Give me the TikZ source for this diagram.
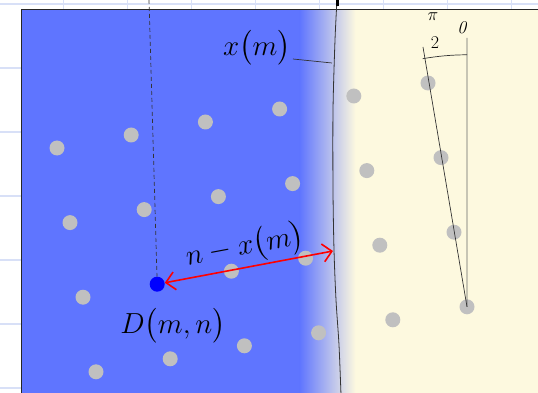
\RequirePackage{fix-cm}
\documentclass[tikz,border=0pt]{standalone}
\usepackage{amsmath,amssymb}
\usepackage{xcolor}
\usepackage{tikz}
\usetikzlibrary{arrows.meta,positioning,calc}

\definecolor{seablue}{RGB}{95,117,255}
\definecolor{sandcream}{RGB}{253,249,223}
\definecolor{shoremist}{RGB}{206,211,238}
\definecolor{gridblue}{RGB}{216,224,247}
\definecolor{pebblegray}{RGB}{192,192,192}

\begin{document}
\begin{tikzpicture}[
    x=1pt, y=-1pt,
    gridline/.style={draw=gridblue, line width=1.5pt},
    pebble/.style={circle, fill=pebblegray, minimum size=15pt, inner sep=0pt},
    probe/.style={circle, fill=blue, minimum size=15pt, inner sep=0pt},
    bigmath/.style={font=\fontsize{29}{34}\selectfont, inner sep=0pt, text=black},
    smallmath/.style={font=\fontsize{18}{20}\selectfont, inner sep=0pt},
    thin/.style={black!80, line width=0.7pt},
    gap/.style={{Straight Barb[length=9pt,width=18pt]}-{Straight Barb[length=9pt,width=18pt]}, red, line width=1.6pt}
]

% Canvas and background grid
\clip (0,0) rectangle (538,393);
\fill[white] (0,0) rectangle (538,393);
\foreach \gx in {63.5,127.5,...,520} \draw[gridline] (\gx,0) -- (\gx,393);
\foreach \gy in {4,68,...,393} \draw[gridline] (0,\gy) -- (538,\gy);

% Blue side, shore and cream side
\fill[seablue] (21,9) rectangle (300,400);
\fill[sandcream] (355,9) rectangle (545,400);
\begin{scope}
  \clip (299,9.5) rectangle (356,400);
  \shade[left color=seablue, middle color=shoremist, right color=sandcream] (299.5,9.5) rectangle (355.5,400);
\end{scope}
\draw[line width=0.8pt, black!85] (21,400) -- (21,9) -- (545,9);

% Boundary x(m)
\draw[black!80, line width=0.8pt] plot[smooth] coordinates {(337,0) (335,40) (333,110) (333,190) (334,250) (336,300) (339,345) (341,395)};
\fill[black] (335.5,0) rectangle (338.5,6);

% Dots on the slanted lattice
\foreach \i in {0,...,5}
  \foreach \j in {0,...,3} {
    \ifnum\i\j=12 \else
      \node[pebble] (dot-\i-\j) at ({57+74.2*\i+13*\j},{148-13*\i+74.6*\j}) {};
    \fi
  }

% Point D(m,n)
\node[probe] (dmn) at (157.2,284.2) {};
\node[bigmath] (dlabel) at (173,326) {$D\bigl(m,n\bigr)$};
\coordinate (dtop) at (149,0);
\draw[thin, dash pattern=on 4pt off 3pt] (dtop) -- (dmn);

% Distance to the boundary
\coordinate (xmhit) at (333,251);
\draw[gap] (dmn) -- node[sloped, above=2pt, bigmath] (gaplabel) {$n-x\bigl(m\bigr)$} (xmhit);

% Boundary label
\node[bigmath] (xlabel) at (257,48) {$x\bigl(m\bigr)$};
\coordinate (xmfoot) at (332,63);
\draw[thin] (xlabel.east) ++(2,11) -- (xmfoot);

% Angle from 0 to pi/2
\coordinate (vtop) at (467,38);
\coordinate (stop) at (423,47);
\draw[black!60, line width=0.7pt] (dot-5-3.center) -- (vtop);
\draw[thin] (dot-5-3.center) -- (stop);
\draw[thin] (dot-5-3.center) ++(0,-252) arc[start angle=270, end angle=259.85, radius=252];
\node[smallmath] (pitop) at (433,17) {$\pi$};
\node[smallmath] (pibot) at (435,43) {$2$};
\node[smallmath] (zero) at (463,28) {$\mathit{0}$};

\end{tikzpicture}
\end{document}
